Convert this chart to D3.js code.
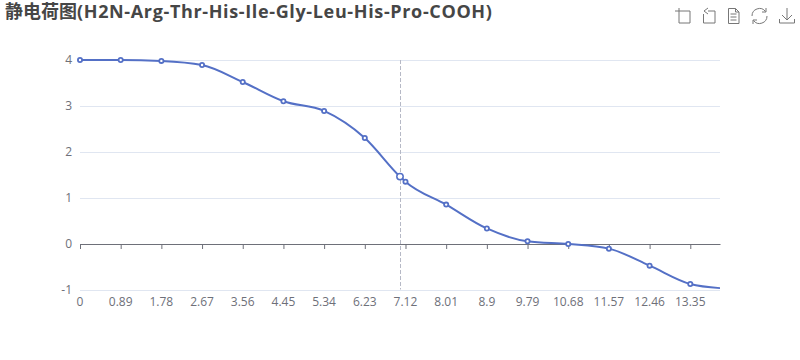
<!DOCTYPE html>
<html>
<head>
<meta charset="utf-8">
<script src="https://cdn.jsdelivr.net/npm/d3@7"></script>
<style>
  html, body { margin: 0; background: #fff; }
  svg { display: block; }
  text { font-family: "Open Sans", "Noto Sans CJK SC", sans-serif; }
</style>
</head>
<body>
<svg id="chart" width="800" height="360"></svg>
<script>
const titleCjk = "静电荷图";
const titleLatin = "(H2N-Arg-Thr-His-Ile-Gly-Leu-His-Pro-COOH)";

// values
const phValues = [0, 0.89, 1.78, 2.67, 3.56, 4.45, 5.34, 6.23, 7, 7.12, 8.01, 8.9, 9.79, 10.68, 11.57, 12.46, 13.35, 14];
const chargeValues = [4, 4, 3.98, 3.89, 3.52, 3.1, 2.89, 2.3, 1.46, 1.35, 0.85, 0.33, 0.05, -0.01, -0.11, -0.48, -0.88, -0.97];
const xTickValues = [0, 0.89, 1.78, 2.67, 3.56, 4.45, 5.34, 6.23, 7.12, 8.01, 8.9, 9.79, 10.68, 11.57, 12.46, 13.35];
const yTickValues = [-1, 0, 1, 2, 3, 4];
const hoverPh = 7;

const margin = { top: 60, right: 80, bottom: 70.5, left: 80 };
const width = 800 - margin.left - margin.right;
const height = 360 - margin.top - margin.bottom;

const lineColor = "#5470c6";
const textColor = "#6e7079";
const gridColor = "#e0e6f1";

const svg = d3.select("#chart");

const title = svg.append("text")
    .attr("x", 5)
    .attr("y", 18)
    .attr("font-size", 18)
    .attr("font-weight", 700)
    .attr("fill", "#464646");
title.append("tspan").text(titleCjk);
title.append("tspan").attr("letter-spacing", 0.64).text(titleLatin);

const x = d3.scaleLinear().domain([0, 14]).range([margin.left, margin.left + width]);
const y = d3.scaleLinear().domain([-1, 4]).range([margin.top + height, margin.top]);

// horizontal grid lines, the zero line is the x axis
svg.append("g").selectAll("line")
    .data(yTickValues.filter(d => d !== 0))
    .join("line")
    .attr("x1", x(0))
    .attr("x2", x(14))
    .attr("y1", d => Math.round(y(d)) + 0.5)
    .attr("y2", d => Math.round(y(d)) + 0.5)
    .attr("stroke", gridColor);

// y labels
svg.append("g").selectAll("text")
    .data(yTickValues)
    .join("text")
    .attr("x", 72)
    .attr("y", d => y(d) + 4)
    .attr("text-anchor", "end")
    .attr("font-size", 12)
    .attr("fill", textColor)
    .text(d => d);

// x axis sits on zero, its labels stay at the bottom of the grid
const xAxis = svg.append("g").attr("transform", `translate(0,${Math.round(y(0))})`)
    .call(d3.axisBottom(x).tickValues(xTickValues).tickFormat("").tickSize(5).tickSizeOuter(0));
xAxis.select(".domain").attr("stroke", textColor);
xAxis.selectAll("line").attr("stroke", textColor);

svg.append("g").selectAll("text")
    .data(xTickValues)
    .join("text")
    .attr("x", d => x(d))
    .attr("y", 306)
    .attr("text-anchor", "middle")
    .attr("font-size", 12)
    .attr("fill", textColor)
    .text(d => d);

// crosshair
svg.append("line")
    .attr("x1", Math.round(x(hoverPh)) + 0.5)
    .attr("x2", Math.round(x(hoverPh)) + 0.5)
    .attr("y1", y(4))
    .attr("y2", y(-1))
    .attr("stroke", "#b6b9c6")
    .attr("stroke-dasharray", "4 2");

const points = phValues.map((d, i) => [d, chargeValues[i]]);
const line = d3.line().x(d => x(d[0])).y(d => y(d[1])).curve(d3.curveMonotoneX);

svg.append("path")
    .attr("d", line(points))
    .attr("fill", "none")
    .attr("stroke", lineColor)
    .attr("stroke-width", 2);

// last point has no marker, 7 is the hovered one
svg.append("g").selectAll("circle")
    .data(points.filter(d => d[0] !== 14))
    .join("circle")
    .attr("cx", d => x(d[0]))
    .attr("cy", d => y(d[1]))
    .attr("r", d => d[0] === hoverPh ? 3.2 : 2.1)
    .attr("fill", "#fff")
    .attr("stroke", lineColor)
    .attr("stroke-width", d => d[0] === hoverPh ? 1.5 : 1.8);

// toolbox icons
const toolIcons = [
  [675, "M4 0V15H15V3H0"],
  [703, "M5 3H12V15H0.5V6M5 0L1 3L5 6"],
  [728, "M0.5 0.5H7.5L11 4V15.5H0.5ZM7.5 0.5V4H11M2.5 6H8.5M2.5 9H8.5M2.5 12H8.5"],
  [751, "M1 8A7.5 7.5 0 0 1 14.5 3.5M16 8A7.5 7.5 0 0 1 2.5 12.5M15 0V4H11M2 16V12H6"],
  [779, "M8 0V12M3 7L8 12L13 7M0.5 11V15H15.5V11"]
];
svg.append("g").selectAll("path")
    .data(toolIcons)
    .join("path")
    .attr("transform", d => `translate(${d[0]},8)`)
    .attr("d", d => d[1])
    .attr("fill", "none")
    .attr("stroke", "#777");
</script>
</body>
</html>
